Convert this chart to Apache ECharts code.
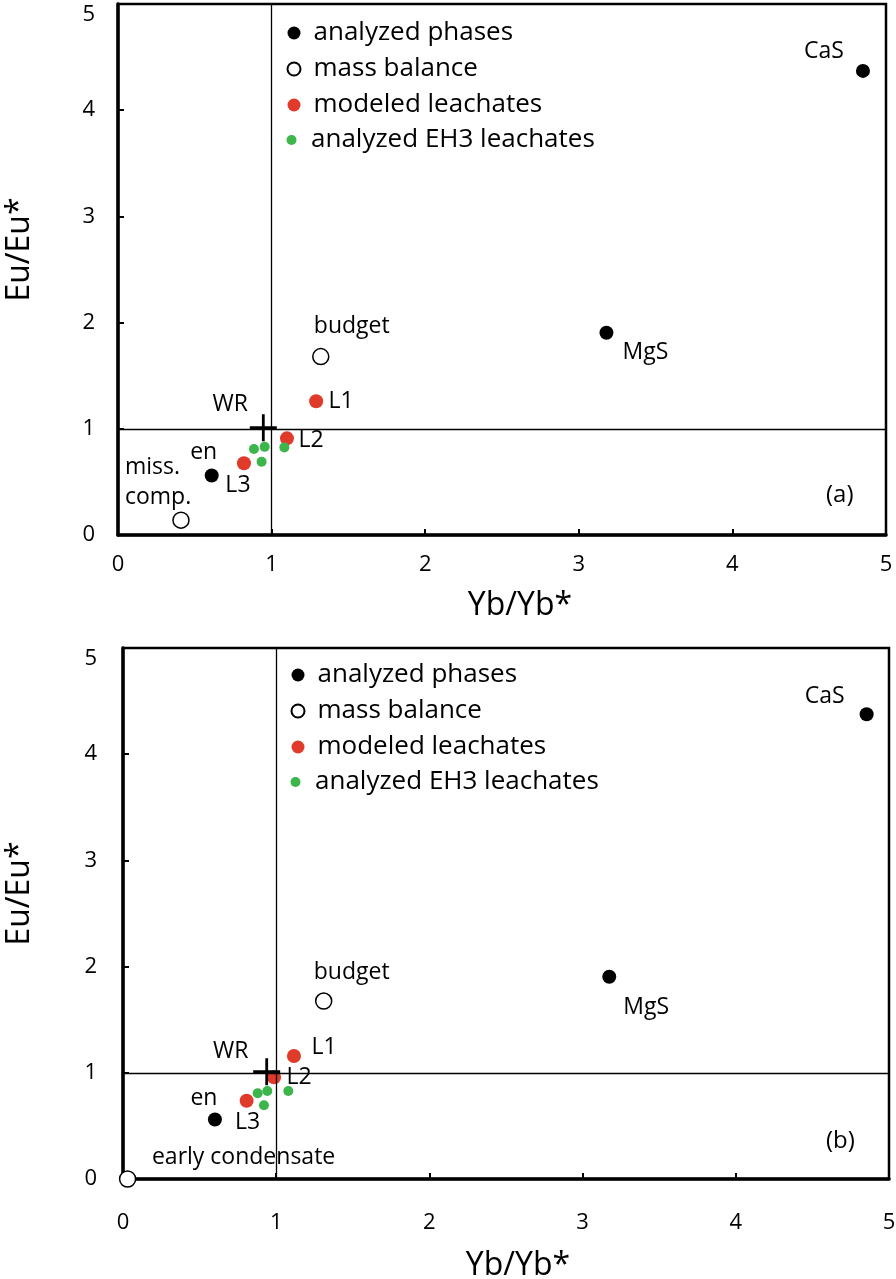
<!DOCTYPE html>
<html><head><meta charset="utf-8">
<script src="https://cdn.jsdelivr.net/npm/echarts@6/dist/echarts.min.js"></script>
<style>html,body{margin:0;padding:0;background:#fff}#c{width:896px;height:1279px}</style>
</head><body><div id="c"></div>
<script>
const FONT = '"Open Sans", "Noto Sans", sans-serif';

// ---------- data ----------
const axisTicks = [0, 1, 2, 3, 4, 5];
const refX = 1, refY = 1;
const xTitle = 'Yb/Yb*';
const yTitle = 'Eu/Eu*';
const legendNames = ['analyzed phases', 'mass balance', 'modeled leachates', 'analyzed EH3 leachates'];
const panelTags = ['(a)', '(b)'];

// panel (a)
const phasesNamesA = ['CaS', 'MgS', 'en'];
const phasesA = [[4.85, 4.37], [3.18, 1.905], [0.61, 0.56]];
const massNamesA = ['budget', 'miss.\ncomp.'];
const massA = [[1.32, 1.68], [0.41, 0.14]];
const modeledNamesA = ['L1', 'L2', 'L3'];
const modeledA = [[1.29, 1.26], [1.10, 0.91], [0.82, 0.675]];
const eh3A = [[0.885, 0.81], [0.955, 0.83], [1.083, 0.825], [0.935, 0.69]];
const wrA = [[0.946, 1.01]];

// panel (b)
const phasesNamesB = ['CaS', 'MgS', 'en'];
const phasesB = [[4.854, 4.376], [3.174, 1.905], [0.60, 0.56]];
const massNamesB = ['budget', 'early condensate'];
const massB = [[1.31, 1.676], [0.03, 0.0]];
const modeledNamesB = ['L1', 'L2', 'L3'];
const modeledB = [[1.116, 1.158], [0.986, 0.957], [0.807, 0.737]];
const eh3B = [[0.879, 0.807], [0.942, 0.829], [1.079, 0.829], [0.92, 0.694]];
const wrB = [[0.938, 1.01]];

// ---------- label placement (styling, not data) ----------
const labelPosA = {
  'CaS': {offset: [-39, -19]}, 'MgS': {offset: [39, 20]}, 'en': {offset: [-8, -23]},
  'budget': {offset: [31, -30]}, 'miss.\ncomp.': {offset: [-56, -38], align: 'left', lineHeight: 30},
  'L1': {offset: [25, 0]}, 'L2': {offset: [24, 2]}, 'L3': {offset: [-6, 22]},
  'WR': {offset: [-33, -23]}
};
const labelPosB = {
  'CaS': {offset: [-42, -18]}, 'MgS': {offset: [37, 31]}, 'en': {offset: [-11, -21]},
  'budget': {offset: [28, -29]}, 'early condensate': {offset: [116, -22]},
  'L1': {offset: [30, -9]}, 'L2': {offset: [25, 0]}, 'L3': {offset: [1, 22]},
  'WR': {offset: [-36, -20]}
};

const RED = '#e03a2a', GREEN = '#3cb54a';

function pts(vals, names, pos) {
  return vals.map((v, i) => {
    const d = {value: v};
    if (names && names[i]) {
      d.name = names[i];
      d.label = Object.assign({show: true, formatter: names[i]}, pos[names[i]] || {});
    }
    return d;
  });
}

const baseLabel = {show: false, position: 'inside', color: '#000', opacity: 1, fontSize: 23, fontFamily: FONT,
  align: 'center', verticalAlign: 'middle'};

function panelSeries(gi, ph, phN, ms, msN, md, mdN, eh, wr, pos) {
  const common = {type: 'scatter', xAxisIndex: gi, yAxisIndex: gi, clip: false,
    emphasis: {disabled: true}, label: baseLabel, animation: false};
  return [
    Object.assign({}, common, {
      name: legendNames[0], symbol: 'circle', symbolSize: 14, z: 3,
      itemStyle: {color: '#000', opacity: 1}, data: pts(ph, phN, pos),
      markLine: {silent: true, symbol: ['none', 'none'], label: {show: false},
        lineStyle: {color: '#000', width: 1.3, type: 'solid', opacity: 1}, animation: false,
        data: [{xAxis: refX}, {yAxis: refY}]}
    }),
    Object.assign({}, common, {
      name: legendNames[1], symbol: 'circle', symbolSize: 16, z: 3,
      itemStyle: {color: '#fff', borderColor: '#000', borderWidth: 1.5, opacity: 1},
      data: pts(ms, msN, pos)
    }),
    Object.assign({}, common, {
      name: legendNames[2], symbol: 'circle', symbolSize: 14, z: 4,
      itemStyle: {color: RED, opacity: 1}, data: pts(md, mdN, pos)
    }),
    Object.assign({}, common, {
      name: legendNames[3], symbol: 'circle', symbolSize: 10, z: 4,
      itemStyle: {color: GREEN, opacity: 1}, data: pts(eh, null, pos)
    }),
    Object.assign({}, common, {
      name: 'WR', symbol: 'path://M0,-10L0,10M-10,0L10,0', symbolSize: 27, z: 5,
      itemStyle: {color: 'transparent', borderColor: '#000', borderWidth: 2.8, opacity: 1},
      data: pts(wr, ['WR'], pos)
    })
  ];
}

function xAx(gi, labelMargin, nameGap, shift) {
  return {
    gridIndex: gi, type: 'value', min: axisTicks[0], max: axisTicks[axisTicks.length - 1],
    interval: axisTicks[1] - axisTicks[0],
    axisLine: {show: true, onZero: false, lineStyle: {color: '#000', width: 3.5}},
    axisTick: {show: true, inside: true, length: 6, lineStyle: {color: '#000', width: 2}},
    axisLabel: {margin: labelMargin, fontSize: 22, color: '#000', fontFamily: FONT},
    splitLine: {show: false},
    name: xTitle, nameLocation: 'middle', nameGap: nameGap,
    nameTextStyle: {fontSize: 32, color: '#000', fontFamily: FONT, padding: [0, 0, 0, shift]}
  };
}
function yAx(gi, labelMargin, nameGap) {
  return {
    gridIndex: gi, type: 'value', min: axisTicks[0], max: axisTicks[axisTicks.length - 1],
    interval: axisTicks[1] - axisTicks[0],
    axisLine: {show: true, onZero: false, lineStyle: {color: '#000', width: 3.5}},
    axisTick: {show: true, inside: true, length: 6, lineStyle: {color: '#000', width: 2}},
    axisLabel: {margin: labelMargin, fontSize: 22, color: '#000', fontFamily: FONT,
      verticalAlignMaxLabel: 'top'},
    splitLine: {show: false},
    name: yTitle, nameLocation: 'middle', nameGap: nameGap,
    nameTextStyle: {fontSize: 32, color: '#000', fontFamily: FONT, padding: [0, 0, 0, 40]}
  };
}

function legendBlock(left, top, names, size) {
  return {
    orient: 'vertical', left: left, top: top, data: names, padding: 0,
    itemWidth: 29, itemHeight: size, itemGap: 10, selectedMode: false,
    textStyle: {fontSize: 26, color: '#000', fontFamily: FONT, lineHeight: 26}
  };
}

const chart = echarts.init(document.getElementById('c'), null, {renderer: 'canvas'});
chart.setOption({
  animation: false,
  backgroundColor: '#fff',
  grid: [
    {left: 118, top: 4, width: 768, height: 531, show: true, borderColor: '#000', borderWidth: 2.5,
      containLabel: false, outerBoundsMode: 'none'},
    {left: 123, top: 648, width: 766, height: 531, show: true, borderColor: '#000', borderWidth: 2.5,
      containLabel: false, outerBoundsMode: 'none'}
  ],
  xAxis: [xAx(0, 19, 55, 36), xAx(1, 33, 71, 24)],
  yAxis: [yAx(0, 23, 82), yAx(1, 26, 87)],
  legend: [
    legendBlock(286.5, 20, legendNames.slice(0, 3), 13),
    legendBlock(286.5, 127, legendNames.slice(3), 10),
    legendBlock(290.5, 662, legendNames.slice(0, 3), 13),
    legendBlock(290.5, 769, legendNames.slice(3), 10)
  ],
  graphic: [
    {type: 'text', left: 826, top: 483, style: {text: panelTags[0], fontSize: 24, fontFamily: FONT, fill: '#000'}},
    {type: 'text', left: 826, top: 1129, style: {text: panelTags[1], fontSize: 24, fontFamily: FONT, fill: '#000'}}
  ],
  series: [].concat(
    panelSeries(0, phasesA, phasesNamesA, massA, massNamesA, modeledA, modeledNamesA, eh3A, wrA, labelPosA),
    panelSeries(1, phasesB, phasesNamesB, massB, massNamesB, modeledB, modeledNamesB, eh3B, wrB, labelPosB)
  )
});
</script></body></html>
